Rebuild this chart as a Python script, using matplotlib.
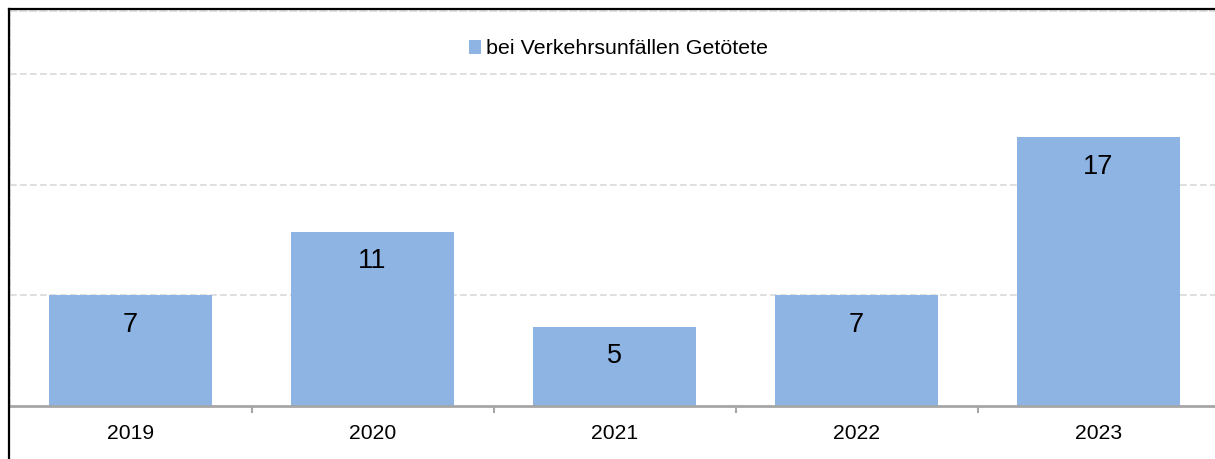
import matplotlib.pyplot as plt
from matplotlib.lines import Line2D

years = ["2019", "2020", "2021", "2022", "2023"]
killed = [7, 11, 5, 7, 17]
series_label = "bei Verkehrsunfällen Getötete"

plt.rcParams["font.family"] = ["Liberation Sans", "DejaVu Sans"]

W, H = 1215, 459
fig = plt.figure(figsize=(W / 100, H / 100), dpi=100)
# plot area runs a little past the right edge, like the cropped original
ax = fig.add_axes([9.5 / W, 53 / H, 1210 / W, 395 / H])

x = range(len(years))
bars = ax.bar(x, killed, width=0.67, color="#8EB4E3", label=series_label, zorder=2)

for xi, v in zip(x, killed):
    ax.annotate(str(v), (xi, v), xytext=(0, -21), textcoords="offset points",
                ha="center", va="center", fontsize=19.5, color="black", zorder=3)

ax.set_xlim(-0.5, len(years) - 0.5)
ax.set_ylim(0, 25)

ax.set_yticks([7, 14, 21])
ax.set_yticklabels([])
ax.tick_params(axis="y", length=0)
ax.yaxis.grid(True, color="#D9D9D9", linestyle=(0, (4, 2)), linewidth=1.2, zorder=0)

ax.set_xticks(list(x))
ax.set_xticklabels(years, fontsize=15.2)
ax.set_xticks([i + 0.5 for i in range(len(years) - 1)], minor=True)
ax.tick_params(axis="x", which="major", length=0, pad=13)
ax.tick_params(axis="x", which="minor", length=5, width=1.5, color="#A6A6A6", direction="out")

for side in ["top", "left", "right"]:
    ax.spines[side].set_color("#D9D9D9")
    ax.spines[side].set_linestyle((0, (4, 2)))
    ax.spines[side].set_linewidth(1.2)
ax.spines["bottom"].set_color("#A6A6A6")
ax.spines["bottom"].set_linewidth(2)
ax.spines["bottom"].set_zorder(4)

ax.legend(loc="center", bbox_to_anchor=(618 / 1210 - 0.0078, 1 - 38 / 395), frameon=False,
          fontsize=15.4, handlelength=0.6, handleheight=0.6, handletextpad=0.2)

# black chart-area border (only left and top show in the crop)
fig.add_artist(Line2D([9 / W, 9 / W], [0, 1 - 9 / H], color="black", linewidth=1.6,
                      transform=fig.transFigure))
fig.add_artist(Line2D([9 / W, 1], [1 - 9 / H, 1 - 9 / H], color="black", linewidth=1.6,
                      transform=fig.transFigure))

fig.savefig("out.png", dpi=100)
